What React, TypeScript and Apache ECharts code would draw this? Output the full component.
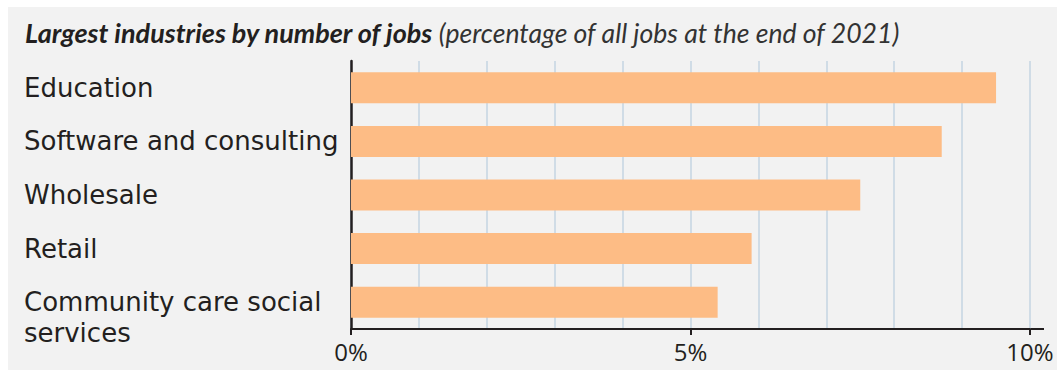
import React, { useEffect, useRef } from "react";
import * as echarts from "echarts";

const categories = [
  "Education",
  "Software and consulting",
  "Wholesale",
  "Retail",
  "Community care social services",
];
const values = [9.5, 8.7, 7.5, 5.9, 5.4];
const titleBold = "Largest industries by number of jobs";
const titleNote = "(percentage of all jobs at the end of 2021)";
const labelText: Record<string, string> = {
  "Community care social services": "\nCommunity care social\nservices",
};

const GRID_LEFT = 343;
const GRID_TOP = 54;
const GRID_RIGHT = 27;
const GRID_BOTTOM = 41;
const W = 1049;
const H = 363;

export default function App() {
  const ref = useRef<HTMLDivElement>(null);
  useEffect(() => {
    if (!ref.current) return;
    const chart = echarts.init(ref.current, null, { renderer: "svg" });
    const dark = "#231f20";
    const labelFont = "'Open Sans', sans-serif";
    chart.setOption({
      animation: false,
      backgroundColor: "#f2f2f2",
      title: {
        left: 12,
        top: 7,
        text: `{b|${titleBold}} {i|${titleNote}}`,
        textStyle: {
          fontWeight: "normal",
          rich: {
            b: {
              fontFamily: "Lato",
              fontWeight: "bold",
              fontStyle: "italic",
              fontSize: 27,
              color: dark,
            },
            i: {
              fontFamily: "Lato",
              fontWeight: "normal",
              fontStyle: "italic",
              fontSize: 26.6,
              color: "#333",
            },
          },
        },
      },
      grid: {
        left: GRID_LEFT,
        top: GRID_TOP,
        right: GRID_RIGHT,
        bottom: GRID_BOTTOM,
        containLabel: false,
      },
      xAxis: [
        {
          type: "value",
          position: "bottom",
          min: 0,
          max: 10,
          interval: 1,
          axisLine: { show: true, lineStyle: { color: dark, width: 2 } },
          axisTick: { show: false },
          axisLabel: { show: false },
          splitLine: { show: true, lineStyle: { color: "#c5d5e2", width: 1.5 } },
        },
        {
          type: "value",
          position: "bottom",
          min: 0,
          max: 10,
          interval: 5,
          axisLine: { show: false },
          axisTick: { show: true, length: 6, lineStyle: { color: dark, width: 2 } },
          axisLabel: {
            formatter: "{value}%",
            fontFamily: labelFont,
            fontSize: 24,
            color: dark,
            margin: 10,
          },
          splitLine: { show: false },
        },
      ],
      yAxis: {
        type: "category",
        data: categories,
        inverse: true,
        axisLine: { show: true, lineStyle: { color: dark, width: 2.5 } },
        axisTick: { show: false },
        splitLine: { show: false },
        axisLabel: {
          interval: 0,
          hideOverlap: false,
          align: "left",
          margin: GRID_LEFT - 16,
          fontFamily: "'DejaVu Sans', sans-serif",
          fontSize: 26,
          lineHeight: 31,
          color: dark,
          formatter: (v: string) => labelText[v] ?? v,
        },
      },
      graphic: [
        {
          type: "line",
          shape: {
            x1: W - GRID_RIGHT,
            y1: H - GRID_BOTTOM,
            x2: W - GRID_RIGHT + 14,
            y2: H - GRID_BOTTOM,
          },
          style: { stroke: dark, lineWidth: 2 },
        },
      ],
      series: [
        {
          type: "bar",
          xAxisIndex: 0,
          data: values,
          barWidth: 31,
          itemStyle: { color: "#fdbc85" },
          silent: true,
        },
      ],
    });
    return () => chart.dispose();
  }, []);
  return (
    <div
      ref={ref}
      style={{ position: "absolute", left: 8, top: 7, width: W, height: H }}
    />
  );
}
